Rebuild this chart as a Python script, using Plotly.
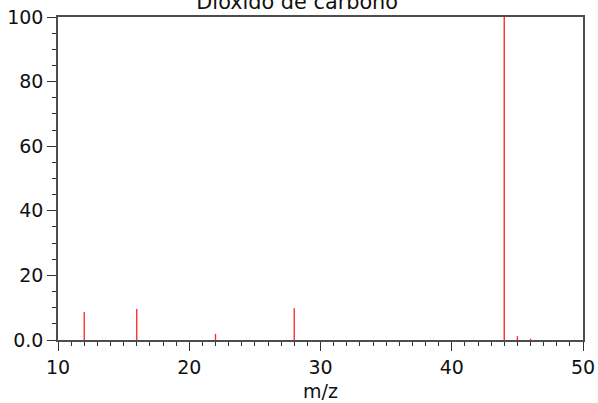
import plotly.graph_objects as go

title = "Dióxido de carbono"
mz = [12, 16, 22, 28, 44, 45, 46]
intensity = [8.7, 9.6, 1.9, 9.8, 100, 1.2, 0.4]
y_tickvals = [0, 20, 40, 60, 80, 100]
y_ticktext = ["0.0", "20", "40", "60", "80", "100"]
x_tickvals = [10, 20, 30, 40, 50]

xs, ys = [], []
for m, h in zip(mz, intensity):
    xs += [m, m, None]
    ys += [0, h, None]

fig = go.Figure(go.Scatter(x=xs, y=ys, mode="lines",
                           line=dict(color="#ff3030", width=1.4),
                           hoverinfo="skip", showlegend=False))

axis_common = dict(showgrid=False, zeroline=False, showline=True, mirror=True,
                   linecolor="#4d4d4d", linewidth=1.5, ticks="outside",
                   ticklen=9, tickwidth=1.3, tickcolor="#333", automargin=False,
                   tickfont=dict(size=19, color="#111"))

fig.update_layout(
    width=598, height=403,
    margin=dict(l=57.5, r=15, t=17, b=62.5),
    paper_bgcolor="white", plot_bgcolor="white",
    font=dict(family="DejaVu Sans", color="#111"),
    title=dict(text=title, x=0.497, xanchor="center", xref="container",
               yref="container", y=0.995, yanchor="middle",
               font=dict(size=20.8, color="#111")),
    xaxis=dict(range=[10, 50], tickvals=x_tickvals,
               minor=dict(dtick=1, ticks="outside", ticklen=4.5, tickcolor="#333", tickwidth=1.3),
               title=dict(text="m/z", font=dict(size=19), standoff=8),
               **axis_common),
    yaxis=dict(range=[0, 100], tickvals=y_tickvals, ticktext=y_ticktext,
               minor=dict(dtick=5, ticks="outside", ticklen=4.5, tickcolor="#333", tickwidth=1.3),
               ticklabelstandoff=0,
               **axis_common),
)

fig.write_html("out.html", config={"displayModeBar": False},
               post_script="document.body.style.margin='0';")
